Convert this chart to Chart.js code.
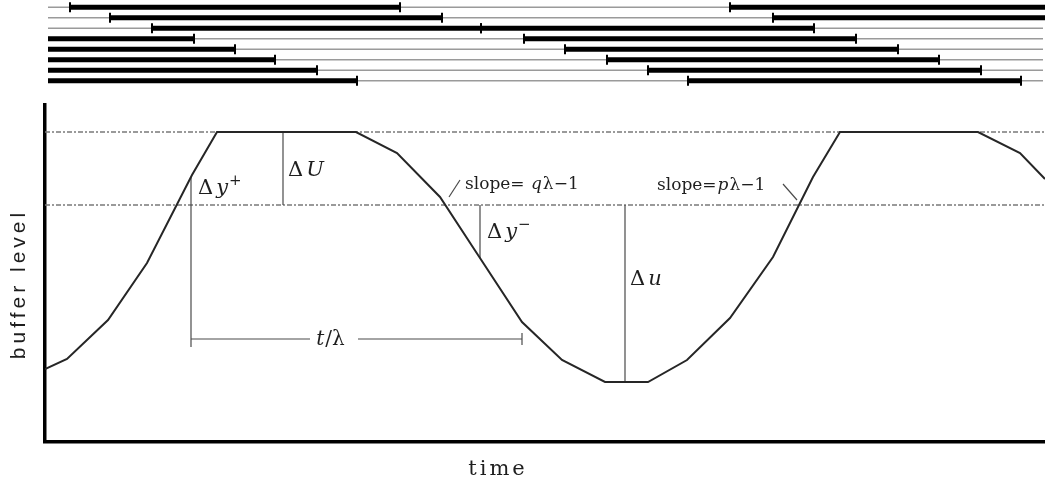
<!DOCTYPE html>
<html><head><meta charset="utf-8">
<script src="https://cdn.jsdelivr.net/npm/chart.js@4.4.0/dist/chart.umd.min.js"></script>
<style>
html,body{margin:0;padding:0;background:#fff;}
#wrap{position:relative;width:1045px;height:483px;overflow:hidden;}
canvas{position:absolute;left:0;top:0;}
</style></head>
<body><div id="wrap"><canvas id="main" width="1045" height="483"></canvas><canvas id="jobs" width="1045" height="92"></canvas></div>
<script>
// ---------- data (time units 0..1000, buffer level units 0..337) ----------
const timePoints  = [0, 22, 63, 102, 147, 172, 311, 352, 395, 433, 477, 517, 560, 603, 642, 685, 728, 768, 795, 933, 975, 1000];
const bufferLevel = [73, 83, 122, 179, 267, 310, 310, 289, 245, 187, 120, 82, 60, 60, 82, 124, 185, 265, 310, 310, 289, 263];
const levelU = 310;   // upper threshold U
const levelu = 237;   // lower threshold u
const timeRange = [0, 1000];
const levelRange = [0, 337];

// annotation segments [t1, L1, t2, L2]
const segDeltaU      = [238, 237, 238, 310];
const segDeltaYPlus  = [146, 95, 146, 265];
const segDeltaYMinus = [435, 237, 435, 184];
const segDeltau      = [580, 237, 580, 60];
const segPeriodLeft  = [146, 103, 265, 103];
const segPeriodRight = [313, 103, 477, 103];
const segPeriodEnd   = [477, 97, 477, 109];
const segSlopeQ      = [415, 262, 404, 245];
const segSlopeP      = [738, 258, 752, 242];

// top panel: 8 rows, busy periods [start, end] in time units
const jobRows = [1, 2, 3, 4, 5, 6, 7, 8];
const busyPeriods = [
  [[25, 355], [685, 1000]],
  [[65, 397], [728, 1000]],
  [[107, 436], [436, 769]],
  [[3, 149], [479, 811]],
  [[3, 190], [520, 853]],
  [[3, 230], [562, 894]],
  [[3, 272], [603, 936]],
  [[3, 312], [643, 976]]
];
const idleSpan = [3, 998];

// ---------- main chart ----------
const curve = timePoints.map((t, i) => ({x: t, y: bufferLevel[i]}));
const hline = v => [{x: timeRange[0], y: v}, {x: timeRange[1], y: v}];
const seg = s => [{x: s[0], y: s[1]}, {x: s[2], y: s[3]}];

const annoStyle = {borderColor: '#4a4a4a', borderWidth: 1.2, pointRadius: 0, fill: false, tension: 0, order: 2};
const mainDatasets = [
  {data: hline(levelU), borderColor: '#7a7a7a', borderWidth: 1.4, borderDash: [5, 2, 2, 2], pointRadius: 0, order: 3},
  {data: hline(levelu), borderColor: '#7a7a7a', borderWidth: 1.4, borderDash: [5, 2, 2, 2], pointRadius: 0, order: 3},
  ...[segDeltaU, segDeltaYPlus, segDeltaYMinus, segDeltau, segPeriodLeft, segPeriodRight, segPeriodEnd, segSlopeQ, segSlopeP]
     .map(s => Object.assign({data: seg(s)}, annoStyle)),
  {data: curve, borderColor: '#262626', borderWidth: 2, pointRadius: 0, tension: 0, order: 0}
];

const labels = [
  {t: 243, L: 266, parts: [['Δ', 'r'], ['U', 'i']], size: 21},
  {t: 153, L: 248, parts: [['Δ', 'r'], ['y', 'i'], ['+', 'sup']], size: 21},
  {t: 442, L: 204, parts: [['Δ', 'r'], ['y', 'i'], ['−', 'sup']], size: 21},
  {t: 585, L: 157, parts: [['Δ', 'r'], ['u', 'i']], size: 21},
  {t: 285, L: 97, center: true, parts: [['t', 'i'], ['/λ', 'r']], size: 20},
  {t: 420, L: 253, parts: [['slope= ', 'r'], ['q', 'i'], ['λ−1', 'r']], size: 17},
  {t: 612, L: 252, parts: [['slope=', 'r'], ['p', 'i'], ['λ−1', 'r']], size: 17}
];

const SERIF = '"DejaVu Serif", "Liberation Serif", serif';
function fontFor(style, size) {
  if (style === 'i') return `italic ${size}px ${SERIF}`;
  if (style === 'sup') return `${Math.round(size * 0.7)}px ${SERIF}`;
  return `${size}px ${SERIF}`;
}

const textPlugin = {
  id: 'texts',
  afterDraw(chart) {
    const {ctx, scales: {x, y}} = chart;
    ctx.save();
    ctx.fillStyle = '#1e1e1e';
    ctx.textBaseline = 'alphabetic';
    ctx.textAlign = 'left';
    for (const lb of labels) {
      let px = x.getPixelForValue(lb.t);
      const py = y.getPixelForValue(lb.L);
      if (lb.center) {
        let w = 0;
        for (const [s, st] of lb.parts) { ctx.font = fontFor(st, lb.size); w += ctx.measureText(s).width; }
        px -= w / 2;
      }
      for (const [s, st] of lb.parts) {
        ctx.font = fontFor(st, lb.size);
        const dy = st === 'sup' ? -lb.size * 0.45 : 0;
        ctx.fillText(s, px, py + dy);
        px += ctx.measureText(s).width + (st === 'r' && s === 'Δ' ? 3 : 1);
      }
    }
    // axis titles
    if ('letterSpacing' in ctx) ctx.letterSpacing = '3px';
    ctx.font = `21px ${SERIF}`;
    ctx.textAlign = 'center';
    ctx.fillText('time', x.getPixelForValue(453), chart.height - 8);
    if ('letterSpacing' in ctx) ctx.letterSpacing = '4px';
    ctx.font = '21px "Liberation Sans", Arial, sans-serif';
    ctx.translate(25, y.getPixelForValue(158));
    ctx.rotate(-Math.PI / 2);
    ctx.textBaseline = 'alphabetic';
    ctx.fillText('buffer level', 0, 0);
    ctx.restore();
  }
};

new Chart(document.getElementById('main'), {
  type: 'line',
  data: {datasets: mainDatasets},
  options: {
    responsive: false, animation: false, events: [],
    layout: {autoPadding: false, padding: {top: 105, left: 0, right: 0, bottom: 0}},
    plugins: {legend: {display: false}, tooltip: {enabled: false}},
    scales: {
      x: {type: 'linear', min: timeRange[0], max: timeRange[1],
          grid: {display: false, drawTicks: false}, ticks: {display: false},
          border: {display: true, color: '#000', width: 3.5},
          afterFit(s) { s.height = 41; }},
      y: {type: 'linear', min: levelRange[0], max: levelRange[1],
          grid: {display: false, drawTicks: false}, ticks: {display: false},
          border: {display: true, color: '#000', width: 3.5},
          afterFit(s) { s.width = 45; }}
    }
  },
  plugins: [textPlugin]
});

// ---------- top job panel ----------
const jobDatasets = [];
jobRows.forEach((r, i) => {
  jobDatasets.push({data: [{x: idleSpan[0], y: r}, {x: idleSpan[1], y: r}],
                    borderColor: '#9a9a9a', borderWidth: 1.5, pointRadius: 0, order: 3});
  const pts = [];
  const ticks = [];
  busyPeriods[i].forEach(([a, b], k) => {
    if (k > 0) pts.push({x: (a + busyPeriods[i][k - 1][1]) / 2, y: null});
    pts.push({x: a, y: r}, {x: b, y: r});
    if (a > idleSpan[0]) ticks.push({x: a, y: r});
    if (b < timeRange[1]) ticks.push({x: b, y: r});
  });
  jobDatasets.push({data: pts, borderColor: '#000', borderWidth: 5, pointRadius: 0, spanGaps: false,
                    borderCapStyle: 'butt', order: 2});
  jobDatasets.push({data: ticks, showLine: false, pointStyle: 'line', rotation: 90, pointRadius: 5,
                    borderColor: '#000', pointBorderColor: '#000', pointBorderWidth: 2, clip: false, order: 1});
});

new Chart(document.getElementById('jobs'), {
  type: 'line',
  data: {datasets: jobDatasets},
  options: {
    responsive: false, animation: false, events: [],
    layout: {autoPadding: false, padding: {top: 2, left: 45, right: 0, bottom: 6}},
    plugins: {legend: {display: false}, tooltip: {enabled: false}},
    scales: {
      x: {type: 'linear', min: timeRange[0], max: timeRange[1], display: false},
      y: {type: 'linear', min: 0.5, max: 8.5, reverse: true, display: false}
    }
  }
});
</script>
</body></html>
